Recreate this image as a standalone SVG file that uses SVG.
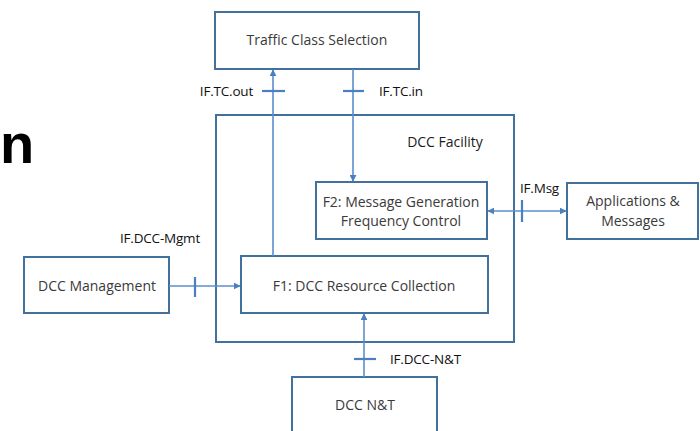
<svg xmlns="http://www.w3.org/2000/svg" width="700" height="431" viewBox="0 0 700 431">
  <style>
    .box { fill: #ffffff; stroke: #41719c; stroke-width: 2; }
    .lbl { font-family: "Open Sans", "Liberation Sans", sans-serif; font-size: 14px; fill: #3a3a3a; text-anchor: middle; }
    .if { font-family: "Open Sans", "Liberation Sans", sans-serif; font-size: 13.5px; fill: #111111; letter-spacing: -0.2px; }
    .wire { stroke: #5b8fcc; stroke-width: 1.6; fill: none; }
    .tick { stroke: #4a7fc0; stroke-width: 2.2; }
  </style>
  <defs>
    <marker id="arr" viewBox="0 0 10 10" refX="9" refY="5" markerWidth="7" markerHeight="7" markerUnits="userSpaceOnUse" orient="auto-start-reverse">
      <path d="M0,0 L10,5 L0,10 z" fill="#4a7fc0"/>
    </marker>
  </defs>

  <rect width="700" height="431" fill="#ffffff"/>

  <!-- large heading fragment at left edge -->
  <text x="0" y="163" font-family="Liberation Sans, Arial, sans-serif" font-weight="bold" font-size="56" fill="#000000">n</text>

  <!-- DCC Facility container -->
  <g id="dcc-facility">
    <rect class="box" x="216" y="115" width="298" height="227"/>
    <text class="lbl" x="445" y="147" style="fill:#1a1a1a">DCC Facility</text>
  </g>

  <g id="traffic-class-selection">
    <rect class="box" x="215" y="12" width="204" height="57"/>
    <text class="lbl" x="317" y="45">Traffic Class Selection</text>
  </g>

  <g id="f2">
    <rect class="box" x="316" y="182" width="171" height="57"/>
    <text class="lbl" x="401" y="207">F2: Message Generation</text>
    <text class="lbl" x="401" y="226">Frequency Control</text>
  </g>

  <g id="applications">
    <rect class="box" x="567" y="183" width="131" height="56"/>
    <text class="lbl" x="633" y="206">Applications &amp;</text>
    <text class="lbl" x="633" y="226">Messages</text>
  </g>

  <g id="dcc-management">
    <rect class="box" x="24" y="257" width="145" height="56"/>
    <text class="lbl" x="97" y="291">DCC Management</text>
  </g>

  <g id="f1">
    <rect class="box" x="241" y="256" width="247" height="57"/>
    <text class="lbl" x="364" y="291">F1: DCC Resource Collection</text>
  </g>

  <g id="dcc-nt">
    <rect class="box" x="292" y="377" width="145" height="60"/>
    <text class="lbl" x="365" y="410">DCC N&amp;T</text>
  </g>

  <g id="connectors">
    <!-- IF.TC.out : F1 -> Traffic Class Selection -->
    <line class="wire" x1="273" y1="256" x2="273" y2="70" marker-end="url(#arr)"/>
    <line class="tick" x1="262" y1="91" x2="285" y2="91"/>
    <text class="if" x="253" y="96" text-anchor="end">IF.TC.out</text>

    <!-- IF.TC.in : Traffic Class Selection -> F2 -->
    <line class="wire" x1="353" y1="69" x2="353" y2="181" marker-end="url(#arr)"/>
    <line class="tick" x1="343" y1="91" x2="364" y2="91"/>
    <text class="if" x="379" y="96">IF.TC.in</text>

    <!-- IF.Msg : F2 <-> Applications -->
    <line class="wire" x1="488" y1="211" x2="566" y2="211" marker-start="url(#arr)" marker-end="url(#arr)"/>
    <line class="tick" x1="522" y1="200" x2="522" y2="222"/>
    <text class="if" x="520" y="193">IF.Msg</text>

    <!-- IF.DCC-Mgmt : DCC Management -> F1 -->
    <line class="wire" x1="169" y1="286" x2="240" y2="286" marker-end="url(#arr)"/>
    <line class="tick" x1="195" y1="277" x2="195" y2="297"/>
    <text class="if" x="120" y="243">IF.DCC-Mgmt</text>

    <!-- IF.DCC-N&T : DCC N&T -> F1 -->
    <line class="wire" x1="364" y1="377" x2="364" y2="314" marker-end="url(#arr)"/>
    <line class="tick" x1="354" y1="359" x2="376" y2="359"/>
    <text class="if" x="390" y="364">IF.DCC-N&amp;T</text>
  </g>
</svg>
